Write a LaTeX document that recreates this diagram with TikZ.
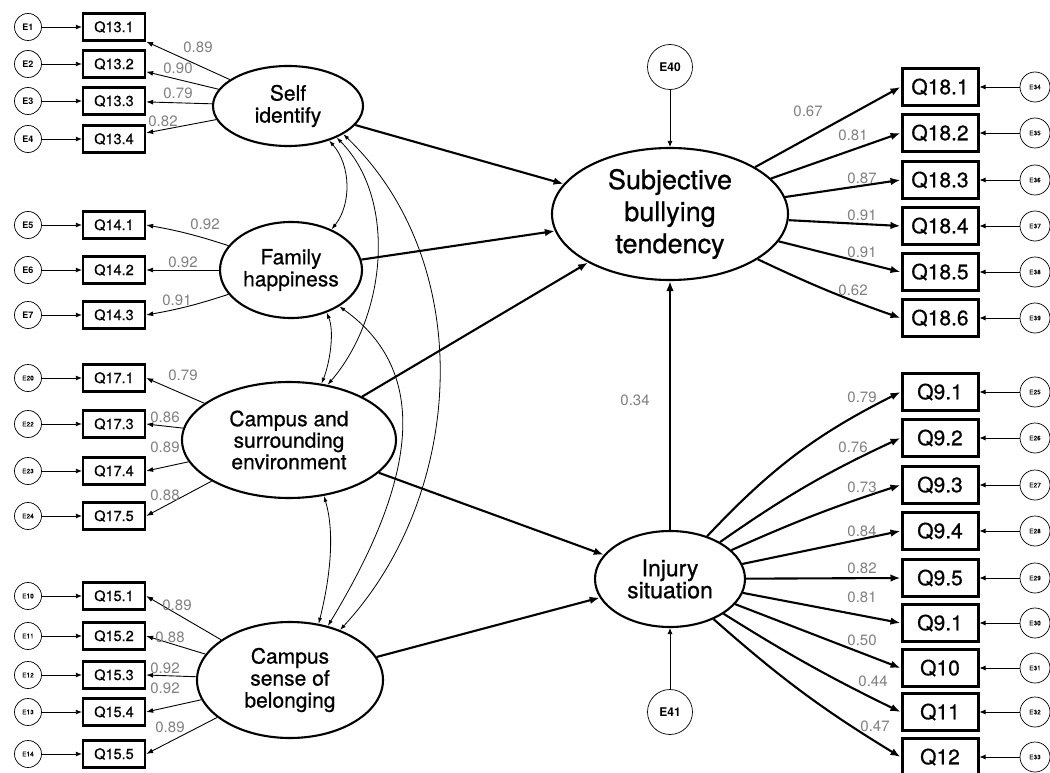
\documentclass[tikz,border=0pt]{standalone}
\usepackage{fontspec}
\setmainfont{TeX Gyre Heros}
\newfontfamily\medfont{TeX Gyre Heros}[FakeBold=0.7]
\usetikzlibrary{shapes.geometric,arrows.meta}
\begin{document}
\begin{tikzpicture}[x=1pt,y=1pt,
  lat/.style={draw,line width=2.1pt,ellipse,inner sep=0pt,align=center},
  lbox/.style={draw,line width=2.3pt,minimum width=62pt,minimum height=27pt,inner sep=0pt,font=\medfont\fontsize{14.5}{16}\selectfont},
  rbox/.style={draw,line width=3pt,minimum width=76pt,minimum height=37pt,inner sep=0pt,font=\medfont\fontsize{21}{22}\selectfont},
  err/.style={draw,line width=0.7pt,circle,inner sep=0pt,minimum size=27pt,font=\bfseries\fontsize{9}{10}\selectfont},
  errs/.style={err,font=\medfont\fontsize{6.5}{7}\selectfont},
  errr/.style={draw,line width=0.7pt,circle,inner sep=0pt,minimum size=30pt,font=\medfont\fontsize{6.5}{7}\selectfont},
  errb/.style={draw,line width=0.7pt,circle,inner sep=0pt,minimum size=45pt,font=\bfseries\fontsize{12}{13}\selectfont},
  thin/.style={line width=0.8pt,-{Latex[length=6pt,width=5pt]}},
  load/.style={line width=0.9pt,-{Latex[length=7pt,width=5pt]}},
  thick/.style={line width=2.1pt,-{Latex[length=10pt,width=7.5pt]}},
  cov/.style={line width=0.8pt,{Latex[length=6pt,width=4pt]}-{Latex[length=6pt,width=4pt]}},
  coef/.style={text=black!50,font=\fontsize{15}{16}\selectfont,inner sep=0pt},
]
\useasboundingbox (0,0) rectangle (1050,-773);

% latent variables
\node[lat,minimum width=150pt,minimum height=80pt,font=\medfont\fontsize{21}{22}\selectfont] (self) at (288,-106) {Self\\identify};
\node[lat,minimum width=142pt,minimum height=96pt,font=\medfont\fontsize{21}{22}\selectfont] (fam) at (291,-270) {Family\\happiness};
\node[lat,minimum width=214pt,minimum height=116pt,font=\medfont\fontsize{21}{21.5}\selectfont] (ce) at (289,-440) {Campus and\\surrounding\\environment};
\node[lat,minimum width=186pt,minimum height=116pt,font=\medfont\fontsize{21}{22}\selectfont] (cs) at (290,-680) {Campus\\sense of\\belonging};
\node[lat,minimum width=236pt,minimum height=132pt,font=\medfont\fontsize{27}{32}\selectfont] (sub) at (670,-214) {Subjective\\bullying\\tendency};
\node[lat,minimum width=150pt,minimum height=96pt,font=\medfont\fontsize{23}{22}\selectfont] (inj) at (670,-579) {Injury\\situation};

% residuals of latents
\node[errb] (e40) at (670,-67) {E40};
\node[errb] (e41) at (670,-712) {E41};

% left indicators
\foreach \n/\t/\y/\e/\s in {q131/Q13.1/27/E1/err, q132/Q13.2/64/E2/err, q133/Q13.3/101/E3/err, q134/Q13.4/139/E4/err,
  q141/Q14.1/225/E5/err, q142/Q14.2/270/E6/err, q143/Q14.3/315/E7/err,
  q171/Q17.1/378/E20/errs, q173/Q17.3/424/E22/errs, q174/Q17.4/471/E23/errs, q175/Q17.5/516/E24/errs,
  q151/Q15.1/596/E10/errs, q152/Q15.2/636/E11/errs, q153/Q15.3/675/E12/errs, q154/Q15.4/712/E13/errs, q155/Q15.5/754/E14/errs}{
  \node[lbox] (\n) at (114,-\y) {\t};
  \node[\s] (e\n) at (28,-\y) {\e};
  \draw[thin] (e\n) -- (\n);
}

% right indicators
\foreach \n/\t/\y/\e in {q181/Q18.1/87/E34, q182/Q18.2/133/E35, q183/Q18.3/180/E36, q184/Q18.4/226/E37, q185/Q18.5/272/E38, q186/Q18.6/318/E39,
  q91/Q9.1/392/E25, q92/Q9.2/438/E26, q93/Q9.3/485/E27, q94/Q9.4/531/E28, q95/Q9.5/578/E29, q96/Q9.1/623/E30, q10/Q10/668/E31, q11/Q11/712/E32, q12/Q12/757/E33}{
  \node[rbox] (\n) at (940,-\y) {\t};
  \node[errr] (e\n) at (1035,-\y) {\e};
  \draw[thin] (e\n) -- (\n);
}

% loadings, left
\draw[load] (self) -- (q131);
\draw[load] (self) -- (q132);
\draw[load] (self) -- (q133);
\draw[load] (self) -- (q134);
\draw[load] (fam) to[bend right=4] (q141.east);
\draw[load] (fam) -- (q142.east);
\draw[load] (fam) to[bend left=4] (q143.east);
\draw[load] (ce) -- (q171.east);
\draw[load] (ce) -- (q173.east);
\draw[load] (ce) -- (q174.east);
\draw[load] (ce) -- (q175.east);
\draw[load] (cs) -- (q151.east);
\draw[load] (cs) -- (q152.east);
\draw[load] (cs) -- (q153.east);
\draw[load] (cs) -- (q154.east);
\draw[load] (cs) -- (q155.east);

% loadings, right
\draw[thick] (sub) -- (q181.west);
\draw[thick] (sub) -- (q182.west);
\draw[thick] (sub) -- (q183.west);
\draw[thick] (sub) -- (q184.west);
\draw[thick] (sub) -- (q185.west);
\draw[thick] (sub) to[bend right=3] (q186.west);
\draw[thick] (inj) to[bend left=10] (q91.west);
\draw[thick] (inj) to[bend left=5] (q92.west);
\draw[thick] (inj) to[bend left=3] (q93.west);
\draw[thick] (inj) -- (q94.west);
\draw[thick] (inj) -- (q95.west);
\draw[thick] (inj) -- (q96.west);
\draw[thick] (inj) -- (q10.west);
\draw[thick] (inj) to[bend right=3] (q11.west);
\draw[thick] (inj) to[bend right=5] (q12.west);

% structural paths
\draw[thick] (self) -- (sub);
\draw[thick] (fam) -- (sub);
\draw[thick] (ce) -- (sub);
\draw[thick] (ce) -- (inj);
\draw[thick] (cs) -- (inj);
\draw[thick] (inj) -- (sub);
\draw[thin] (e40) -- (sub);
\draw[thin] (e41) -- (inj);

% covariances
\draw[cov] (self.-40) .. controls +(22,-25) and +(20,25) .. (fam.45);
\draw[cov] (self.-33) .. controls +(60,-60) and +(60,70) .. (ce.55);
\draw[cov] (self.-27) .. controls +(135,-130) and +(125,135) .. (cs.45);
\draw[cov] (fam.-50) .. controls +(8,-20) and +(8,20) .. (ce.60);
\draw[cov] (fam.-37) .. controls +(97,-69) and +(83,137) .. (cs.55);
\draw[cov] (ce.-58) .. controls +(12,-40) and +(10,40) .. (cs.63);

% coefficients
\node[coef] (c1) at (198,-47) {0.89};
\node[coef] (c2) at (178,-68) {0.90};
\node[coef] (c3) at (178,-93) {0.79};
\node[coef] (c4) at (163,-121) {0.82};
\node[coef] (c5) at (205,-224) {0.92};
\node[coef] (c6) at (183,-262) {0.92};
\node[coef] (c7) at (177,-300) {0.91};
\node[coef] (c8) at (183,-375) {0.79};
\node[coef] (c9) at (165,-417) {0.86};
\node[coef] (c10) at (165,-447) {0.89};
\node[coef] (c11) at (165,-495) {0.88};
\node[coef] (c12) at (177,-605) {0.89};
\node[coef] (c13) at (170,-637) {0.88};
\node[coef] (c14) at (165,-668) {0.92};
\node[coef] (c15) at (165,-688) {0.92};
\node[coef] (c16) at (170,-727) {0.89};
\node[coef] (c17) at (808,-111) {0.67};
\node[coef] (c18) at (853,-135) {0.81};
\node[coef] (c19) at (862,-178) {0.87};
\node[coef] (c20) at (862,-215) {0.91};
\node[coef] (c21) at (862,-252) {0.91};
\node[coef] (c22) at (853,-290) {0.62};
\node[coef] (c23) at (635,-400) {0.34};
\node[coef] (c24) at (862,-397) {0.79};
\node[coef] (c25) at (853,-447) {0.76};
\node[coef] (c26) at (862,-487) {0.73};
\node[coef] (c27) at (862,-531) {0.84};
\node[coef] (c28) at (862,-568) {0.82};
\node[coef] (c29) at (862,-597) {0.81};
\node[coef] (c30) at (862,-640) {0.50};
\node[coef] (c31) at (873,-681) {0.44};
\node[coef] (c32) at (875,-726) {0.47};
\end{tikzpicture}
\end{document}
